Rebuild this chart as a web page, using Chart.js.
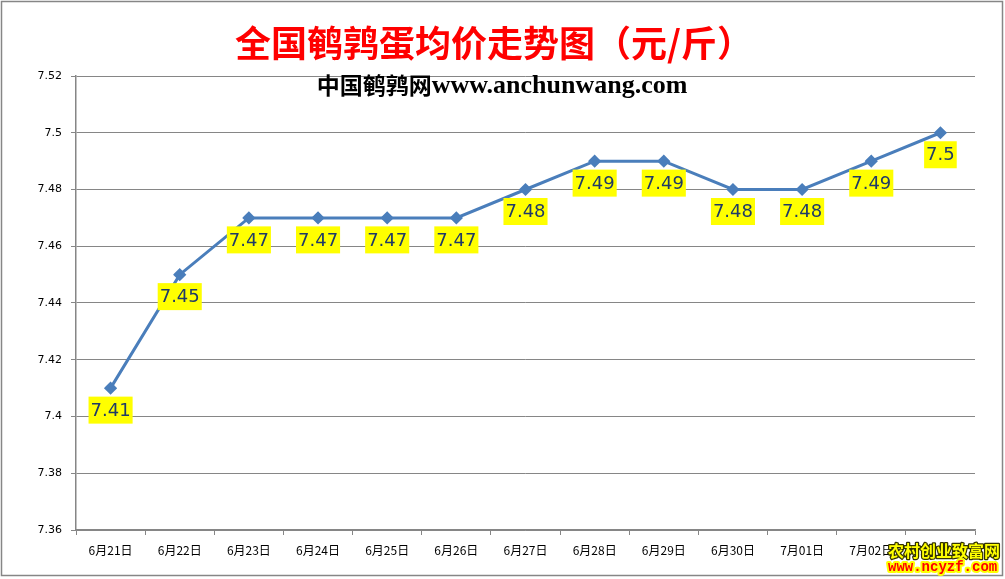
<!DOCTYPE html>
<html>
<head>
<meta charset="utf-8">
<script src="https://cdn.jsdelivr.net/npm/chart.js@4"></script>
<style>
  html, body { margin: 0; padding: 0; background: #fff; }
  #wrap { width: 1005px; height: 579px; }
</style>
</head>
<body>
<div id="wrap"><canvas id="grafico" width="1005" height="579"></canvas></div>
<script>
// dados
var dias = ["6月21日", "6月22日", "6月23日", "6月24日", "6月25日", "6月26日", "6月27日",
            "6月28日", "6月29日", "6月30日", "7月01日", "7月02日", "7月03日"];
var precos = [7.41, 7.45, 7.47, 7.47, 7.47, 7.47, 7.48, 7.49, 7.49, 7.48, 7.48, 7.49, 7.5];
var ticksY = [7.36, 7.38, 7.4, 7.42, 7.44, 7.46, 7.48, 7.5, 7.52];
var titulo = "全国鹌鹑蛋均价走势图（元/斤）";
var subtituloCn = "中国鹌鹑网";
var subtituloUrl = "www.anchunwang.com";

var cinza = "#868686";

var pluginMolde = {
  id: "molde",
  beforeDraw: function (chart) {
    var c = chart.ctx;
    c.save();
    c.fillStyle = "#fff";
    c.fillRect(0, 0, chart.width, chart.height);
    c.strokeStyle = cinza;
    c.lineWidth = 1.5;
    c.strokeRect(1.5, 1.5, 1001, 574);
    c.restore();
  },
  afterDraw: function (chart) {
    var c = chart.ctx;
    c.save();
    // titulo
    c.fillStyle = "#FF0000";
    c.font = "bold 36px 'Noto Sans CJK SC'";
    c.textAlign = "center";
    c.textBaseline = "middle";
    c.fillText(titulo, 494, 43);

    // subtitulo
    c.fillStyle = "#000";
    c.textAlign = "left";
    c.font = "bold 23px 'Noto Sans CJK SC'";
    var w1 = c.measureText(subtituloCn).width;
    c.font = "bold 26px 'Liberation Serif'";
    var w2 = c.measureText(subtituloUrl).width;
    var x0 = 502 - (w1 + w2) / 2;
    c.font = "bold 23px 'Noto Sans CJK SC'";
    c.fillText(subtituloCn, x0, 85);
    c.font = "bold 26px 'Liberation Serif'";
    c.fillText(subtituloUrl, x0 + w1, 86);

    // rotulos dos pontos
    var meta = chart.getDatasetMeta(0);
    c.font = "18px 'DejaVu Sans'";
    c.textAlign = "center";
    c.textBaseline = "middle";
    for (var i = 0; i < meta.data.length; i++) {
      var p = meta.data[i];
      var txt = String(precos[i]);
      var w = c.measureText(txt).width + 4;
      var cy = p.y + 22;
      c.fillStyle = "#FFFF00";
      c.fillRect(p.x - w / 2, cy - 13.5, w, 27);
      c.fillStyle = "#1F3A68";
      c.fillText(txt, p.x, cy + 1);
    }

    // marca d'agua
    c.textAlign = "left";
    c.lineJoin = "round";
    c.font = "bold 16px 'Noto Sans CJK SC'";
    c.lineWidth = 2.5;
    c.strokeStyle = "#333300";
    c.strokeText("农村创业致富网", 888, 551);
    c.fillStyle = "#FFFF00";
    c.fillText("农村创业致富网", 888, 551);
    c.font = "bold 14px 'Liberation Mono'";
    c.lineWidth = 4;
    c.strokeStyle = "#FFFF00";
    c.strokeText("www.ncyzf.com", 888, 567);
    c.fillStyle = "#FF0000";
    c.fillText("www.ncyzf.com", 888, 567);
    c.restore();
  }
};

var ctx = document.getElementById("grafico").getContext("2d");
var grafico = new Chart(ctx, {
  type: "line",
  data: {
    labels: dias,
    datasets: [{
      data: precos,
      borderColor: "#4A7EBB",
      backgroundColor: "#4A7EBB",
      borderWidth: 3,
      tension: 0,
      pointStyle: "rectRot",
      pointRadius: 4.5,
      pointHoverRadius: 4.5,
      pointBackgroundColor: "#4A7EBB",
      pointBorderColor: "#4A7EBB",
      fill: false
    }]
  },
  options: {
    responsive: false,
    animation: false,
    events: [],
    layout: { padding: { top: 76, right: 30, bottom: 0, left: 0 } },
    plugins: {
      legend: { display: false },
      tooltip: { enabled: false }
    },
    scales: {
      y: {
        min: 7.36,
        max: 7.52,
        afterBuildTicks: function (axis) {
          axis.ticks = ticksY.map(function (v) { return { value: v }; });
        },
        afterFit: function (axis) { axis.width = 76; },
        grid: {
          color: cinza,
          lineWidth: 1,
          drawTicks: true,
          tickLength: 5
        },
        border: { color: cinza, width: 1.5 },
        ticks: {
          color: "#000",
          padding: 9,
          font: { family: "'DejaVu Sans'", size: 11 },
          callback: function (v) { return String(parseFloat(v.toFixed(2))); }
        }
      },
      x: {
        offset: true,
        afterFit: function (axis) { axis.height = 49; },
        grid: {
          offset: true,
          drawOnChartArea: false,
          color: cinza,
          tickLength: 5
        },
        border: { color: cinza, width: 1.5 },
        ticks: {
          color: "#000",
          padding: 8,
          maxRotation: 0,
          autoSkip: false,
          font: { family: "'Noto Sans CJK SC'", size: 12 }
        }
      }
    }
  },
  plugins: [pluginMolde]
});
</script>
</body>
</html>
